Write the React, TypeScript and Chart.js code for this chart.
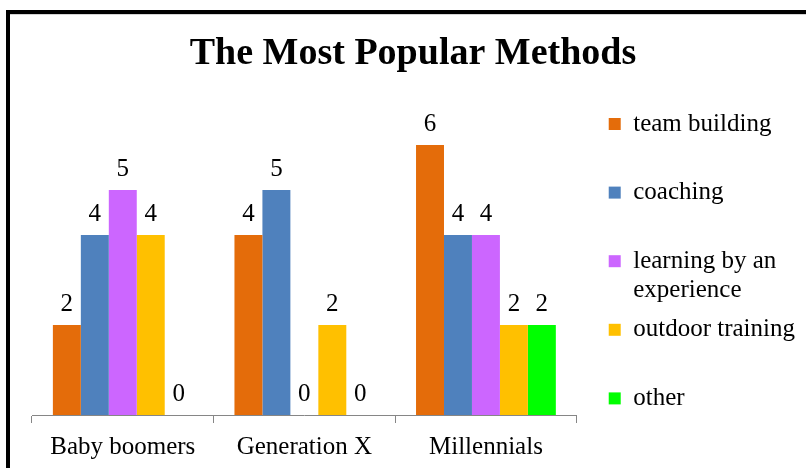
import React, { useEffect, useRef } from "react";
import { Chart, registerables } from "chart.js";

Chart.register(...registerables);

const categories = ["Baby boomers", "Generation X", "Millennials"];
const seriesNames = ["team building", "coaching", "learning by an experience", "outdoor training", "other"];
const legendLines = [
  ["team building", ""],
  ["coaching", ""],
  ["learning by an", "experience"],
  ["outdoor training", ""],
  ["other", ""],
];
const teamBuilding = [2, 4, 6];
const coaching = [4, 5, 4];
const learningByExperience = [5, 0, 4];
const outdoorTraining = [4, 2, 2];
const other = [0, 0, 2];
const seriesColors = ["#E46C0A", "#4F81BD", "#CC66FF", "#FFC000", "#00FF00"];
const yMax = 7;

const FONT = '"Liberation Serif", "Times New Roman", serif';

const barValueLabels = {
  id: "barValueLabels",
  afterDatasetsDraw(chart: any) {
    const ctx = chart.ctx;
    ctx.save();
    ctx.font = `25px ${FONT}`;
    ctx.fillStyle = "#000";
    ctx.textAlign = "center";
    ctx.textBaseline = "alphabetic";
    chart.data.datasets.forEach((ds: any, di: number) => {
      const meta = chart.getDatasetMeta(di);
      meta.data.forEach((el: any, i: number) => {
        ctx.fillText(String(ds.data[i]), el.x, el.y - 14.5);
      });
    });
    ctx.restore();
  },
};

export default function App() {
  const ref = useRef<HTMLCanvasElement | null>(null);

  useEffect(() => {
    if (!ref.current) return;
    const values = [teamBuilding, coaching, learningByExperience, outdoorTraining, other];
    const chart = new Chart(ref.current, {
      type: "bar",
      data: {
        labels: categories,
        datasets: seriesNames.map((name, i) => ({
          label: name,
          data: values[i],
          backgroundColor: seriesColors[i],
          borderWidth: 0,
          categoryPercentage: 0.77,
          barPercentage: 1,
        })),
      },
      options: {
        responsive: false,
        animation: false,
        events: [],
        layout: { padding: { left: 21, right: 0, top: 0, bottom: 0 } },
        scales: {
          x: {
            grid: {
              display: true,
              drawOnChartArea: false,
              drawTicks: true,
              tickLength: 8,
              color: "#868686",
              offset: true,
            },
            border: { display: true, color: "#868686", width: 1 },
            ticks: {
              color: "#000",
              padding: 9,
              font: { family: FONT, size: 25, lineHeight: 1.2 },
              maxRotation: 0,
              autoSkip: false,
            },
            afterFit: (scale: any) => {
              scale.height = 53;
            },
          },
          y: {
            position: "left",
            min: 0,
            max: yMax,
            display: true,
            grid: { display: false },
            border: { display: false },
            ticks: { display: false },
            afterFit: (scale: any) => {
              scale.width = 11;
            },
          },
          yGap: {
            type: "linear",
            position: "right",
            display: true,
            grid: { display: false },
            border: { display: false },
            ticks: { display: false },
            afterFit: (scale: any) => {
              scale.width = 22.4;
            },
          },
        },
        plugins: {
          title: {
            display: true,
            text: "The Most Popular Methods",
            color: "#000",
            font: { family: FONT, size: 38, weight: "bold", lineHeight: 1.2 },
            padding: { top: 31.4, bottom: 23 },
          },
          legend: {
            display: true,
            position: "right",
            align: "start",
            maxWidth: 400,
            title: {
              display: true,
              text: "",
              font: { family: FONT, size: 10, lineHeight: "0px" },
              padding: { top: 101.9, bottom: 0 },
            },
            labels: {
              color: "#000",
              boxWidth: 12,
              boxHeight: 12,
              padding: 9.6,
              font: { family: FONT, size: 25, lineHeight: "29.5px" },
              generateLabels: (ch: any) =>
                ch.data.datasets.map((ds: any, i: number) => ({
                  text: legendLines[i],
                  fillStyle: ds.backgroundColor,
                  strokeStyle: ds.backgroundColor,
                  lineWidth: 0,
                  hidden: false,
                  datasetIndex: i,
                  fontColor: "#000",
                })),
            },
          },
          tooltip: { enabled: false },
        },
      },
      plugins: [barValueLabels],
    } as any);
    return () => chart.destroy();
  }, []);

  return (
    <div
      style={{
        position: "fixed",
        left: 0,
        top: 0,
        width: 806,
        height: 468,
        overflow: "hidden",
        background: "#fff",
      }}
    >
      <canvas
        ref={ref}
        width={805}
        height={468}
        style={{ position: "absolute", left: 0, top: 0, display: "block", width: 805, height: 468 }}
      />
      <div
        style={{
          position: "absolute",
          left: 6,
          top: 10,
          width: 900,
          height: 600,
          borderLeft: "4px solid #000",
          borderTop: "4px solid #000",
          pointerEvents: "none",
        }}
      />
      <div
        style={{
          position: "absolute",
          left: 10,
          top: 14,
          width: 900,
          height: 1,
          background: "#d4d4d4",
          pointerEvents: "none",
        }}
      />
    </div>
  );
}
